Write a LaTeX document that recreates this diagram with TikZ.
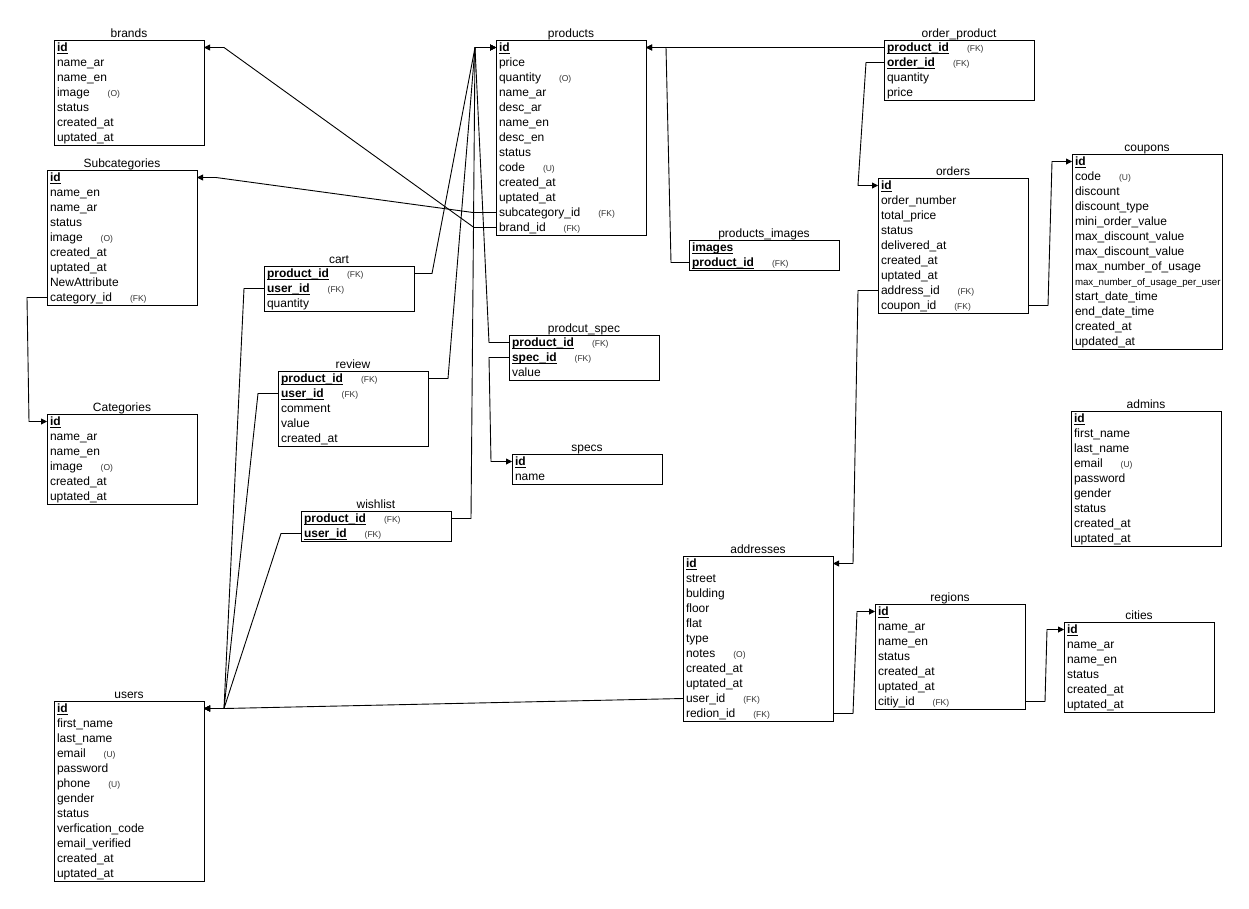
\documentclass[tikz,border=0pt]{standalone}
\usepackage{fontspec}
\setmainfont{Liberation Sans}
\usetikzlibrary{arrows.meta,calc}

\tikzset{
  tablebox/.style={draw=black, line width=1pt, fill=white, inner sep=0pt, outer sep=0pt},
  tabletitle/.style={font=\fontsize{12}{14}\selectfont, inner sep=0pt, anchor=base},
  rowcell/.style={inner xsep=3pt, inner ysep=0pt, minimum height=15pt, text width=144pt,
    text height=10pt, text depth=1.6pt, align=left, font=\fontsize{12}{14}\selectfont,
    anchor=north west, outer sep=0pt},
  rel/.style={draw=black, line width=0.9pt, -{Triangle[length=6pt,width=6pt]}},
}

% primary / key column: bold with an underline close to the baseline
\newsavebox\pkbox
\newcommand\pk[1]{\sbox\pkbox{\textbf{#1}}\rlap{\rule[-2pt]{\wd\pkbox}{0.8pt}}\usebox\pkbox}
% small constraint marker after a column name
\newcommand\ann[1]{\hspace{18pt}{\fontsize{8.5}{10}\selectfont\color{black!80}#1}}

% table: name, x, top y, width, number of rows, title, rows
\newcommand\ertable[7]{%
  \node[tablebox, anchor=north west, minimum width=#4pt, minimum height=#5*15pt] (#1) at (#2,#3) {};
  \node[tabletitle] (#1-title) at ($(#1.north)+(0,-3)$) {#6};
  \foreach \r [count=\i] in {#7} {
    \node[rowcell] (#1-\i) at ($(#1.north west)+(0,{15*(\i-1)})$) {\r};
  }%
}

\begin{document}
\begin{tikzpicture}[x=1pt,y=-1pt]
\useasboundingbox (0,0) rectangle (1249,908);
\fill[white] (0,0) rectangle (1249,908);

\ertable{brands}{54}{40}{150}{7}{brands}{\pk{id},name\_ar,name\_en,image\ann{(O)},status,created\_at,uptated\_at}
\ertable{subcat}{47}{170}{150}{9}{Subcategories}{\pk{id},name\_en,name\_ar,status,image\ann{(O)},created\_at,uptated\_at,NewAttribute,category\_id\ann{(FK)}}
\ertable{cat}{47}{414}{150}{6}{Categories}{\pk{id},name\_ar,name\_en,image\ann{(O)},created\_at,uptated\_at}
\ertable{users}{54}{701}{150}{12}{users}{\pk{id},first\_name,last\_name,email\ann{(U)},password,phone\ann{(U)},gender,status,verfication\_code,email\_verified,created\_at,uptated\_at}
\ertable{products}{496}{40}{150}{13}{products}{\pk{id},price,quantity\ann{(O)},name\_ar,desc\_ar,name\_en,desc\_en,status,code\ann{(U)},created\_at,uptated\_at,subcategory\_id\ann{(FK)},brand\_id\ann{(FK)}}
\ertable{op}{884}{40}{150}{4}{order\_product}{\pk{product\_id}\ann{(FK)},\pk{order\_id}\ann{(FK)},quantity,price}
\ertable{orders}{878}{178}{150}{9}{orders}{\pk{id},order\_number,total\_price,status,delivered\_at,created\_at,uptated\_at,address\_id\ann{(FK)},coupon\_id\ann{(FK)}}
\ertable{coupons}{1072}{154}{150}{13}{coupons}{\pk{id},code\ann{(U)},discount,discount\_type,mini\_order\_value,max\_discount\_value,max\_discount\_value,max\_number\_of\_usage,{\fontsize{9.7}{11}\selectfont max\_number\_of\_usage\_per\_user},start\_date\_time,end\_date\_time,created\_at,updated\_at}
\ertable{pimg}{689}{240}{150}{2}{products\_images}{\pk{images},\pk{product\_id}\ann{(FK)}}
\ertable{cart}{264}{266}{150}{3}{cart}{\pk{product\_id}\ann{(FK)},\pk{user\_id}\ann{(FK)},quantity}
\ertable{review}{278}{371}{150}{5}{review}{\pk{product\_id}\ann{(FK)},\pk{user\_id}\ann{(FK)},comment,value,created\_at}
\ertable{wishlist}{301}{511}{150}{2}{wishlist}{\pk{product\_id}\ann{(FK)},\pk{user\_id}\ann{(FK)}}
\ertable{pspec}{509}{335}{150}{3}{prodcut\_spec}{\pk{product\_id}\ann{(FK)},\pk{spec\_id}\ann{(FK)},value}
\ertable{specs}{512}{454}{150}{2}{specs}{\pk{id},name}
\ertable{admins}{1071}{411}{150}{9}{admins}{\pk{id},first\_name,last\_name,email\ann{(U)},password,gender,status,created\_at,uptated\_at}
\ertable{addr}{683}{556}{150}{11}{addresses}{\pk{id},street,bulding,floor,flat,type,notes\ann{(O)},created\_at,uptated\_at,user\_id\ann{(FK)},redion\_id\ann{(FK)}}
\ertable{regions}{875}{604}{150}{7}{regions}{\pk{id},name\_ar,name\_en,status,created\_at,uptated\_at,citiy\_id\ann{(FK)}}
\ertable{cities}{1064}{622}{150}{6}{cities}{\pk{id},name\_ar,name\_en,status,created\_at,uptated\_at}

% shared entry points
\coordinate (pin) at ([xshift=-21pt]products-1.west);
\coordinate (uin) at ([xshift=20pt]users-1.east);

% products references
\draw[rel] (products-13.west) -- ++(-22,0) -- ([xshift=20pt]brands-1.east) -- (brands-1.east);
\draw[rel] (products-12.west) -- ++(-23,0) -- ([xshift=19pt]subcat-1.east) -- (subcat-1.east);
\draw[rel] (subcat-9.west) -- ++(-20,0) -- ([xshift=-18pt]cat-1.west) -- (cat-1.west);

% links into products.id
\draw[rel] (cart-1.east) -- ++(18,0) -- (pin) -- (products-1.west);
\draw[rel] (review-1.east) -- ++(20,0) -- (pin) -- (products-1.west);
\draw[rel] (wishlist-1.east) -- ++(20,0) -- (pin) -- (products-1.west);
\draw[rel] (pspec-1.west) -- ++(-20,0) -- (pin) -- (products-1.west);
\draw[rel] (pspec-2.west) -- ++(-20,0) -- ([xshift=-21pt]specs-1.west) -- (specs-1.west);
\draw[rel] (op-1.west) -- (products-1.east);
\draw[rel] (pimg-2.west) -- ++(-18,0) -- ([xshift=20pt]products-1.east) -- (products-1.east);

% orders side
\draw[rel] (op-2.west) -- ++(-18,0) -- ([xshift=-20pt]orders-1.west) -- (orders-1.west);
\draw[rel] (orders-9.east) -- ++(20,0) -- ([xshift=-20pt]coupons-1.west) -- (coupons-1.west);
\draw[rel] (orders-8.west) -- ++(-20,0) -- ([xshift=20pt]addr-1.east) -- (addr-1.east);
\draw[rel] (addr-11.east) -- ++(20,0) -- ([xshift=-18pt]regions-1.west) -- (regions-1.west);
\draw[rel] (regions-7.east) -- ++(20,0) -- ([xshift=-17pt]cities-1.west) -- (cities-1.west);

% links into users.id
\draw[rel] (cart-2.west) -- ++(-20,0) -- (uin) -- (users-1.east);
\draw[rel] (review-2.west) -- ++(-20,0) -- (uin) -- (users-1.east);
\draw[rel] (wishlist-2.west) -- ++(-20,0) -- (uin) -- (users-1.east);
\draw[rel] (addr-10.west) -- (uin) -- (users-1.east);
\end{tikzpicture}
\end{document}
